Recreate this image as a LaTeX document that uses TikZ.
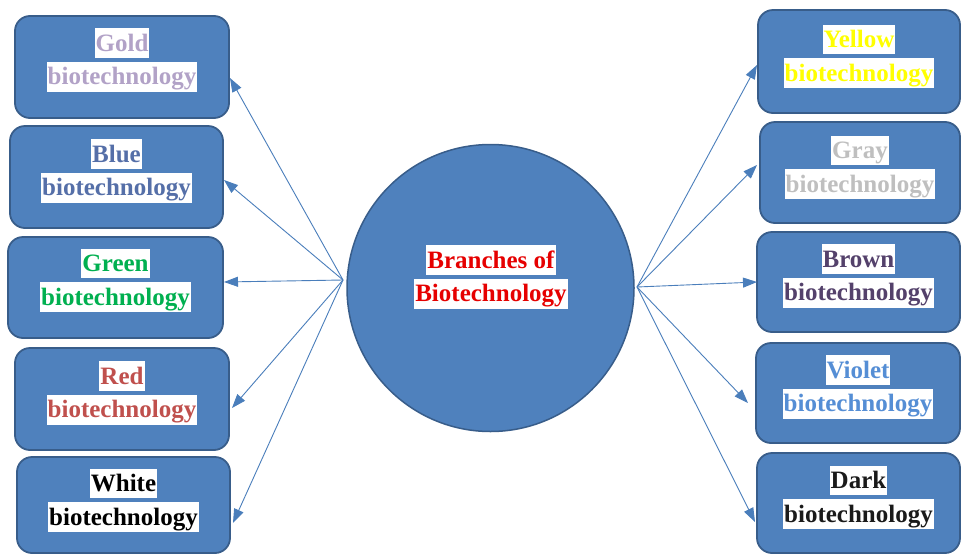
\documentclass[tikz,border=0pt]{standalone}
\usepackage{fontspec}
\setmainfont{Liberation Serif}[BoldFont={Liberation Serif Bold}]
\newfontfamily\lserifbold{Liberation Serif Bold}
\usetikzlibrary{arrows.meta,calc}
\definecolor{boxfill}{HTML}{4F81BD}
\definecolor{boxedge}{HTML}{385D8A}
\definecolor{arrowc}{HTML}{4A7EBB}
\definecolor{cGold}{HTML}{B2A2C7}
\definecolor{cBlue}{HTML}{556FA8}
\definecolor{cGreen}{HTML}{00B050}
\definecolor{cRed}{HTML}{C0504D}
\definecolor{cWhite}{HTML}{000000}
\definecolor{cYellow}{HTML}{FFFF00}
\definecolor{cGray}{HTML}{BFBFBF}
\definecolor{cBrown}{HTML}{54416B}
\definecolor{cViolet}{HTML}{558ED5}
\definecolor{cDark}{HTML}{1A1A1A}
\definecolor{cCenter}{HTML}{E60000}
\setlength{\fboxsep}{1pt}
\newcommand{\hl}[1]{\colorbox{white}{\rule[-5.5pt]{0pt}{27.5pt}#1}}
\tikzset{
  branchbox/.style={draw=boxedge, line width=1.8pt, fill=boxfill, rounded corners=15pt, inner sep=0pt},
  lbl/.style={align=center, inner sep=0pt, font=\lserifbold\fontsize{25}{33.5}\selectfont},
  arr/.style={draw=arrowc, line width=0.9pt, -{Triangle[length=14pt,width=10pt]}}
}
\begin{document}
\begin{tikzpicture}[x=1pt,y=-1pt]
\useasboundingbox (0,0) rectangle (961,555);
\fill[white] (0,0) rectangle (961,555);
% left boxes
\node[branchbox, minimum width=214pt, minimum height=102pt] (gold) at (122,67) {};
\node[branchbox, minimum width=213pt, minimum height=102pt] (blue) at (116.5,177) {};
\node[branchbox, minimum width=215pt, minimum height=101pt] (green) at (115.5,287.5) {};
\node[branchbox, minimum width=214pt, minimum height=102pt] (red) at (122,399) {};
\node[branchbox, minimum width=213pt, minimum height=96pt] (white) at (123.5,505) {};
% right boxes
\node[branchbox, minimum width=202pt, minimum height=103pt] (yellow) at (859,61.5) {};
\node[branchbox, minimum width=200pt, minimum height=101pt] (gray) at (860,172.5) {};
\node[branchbox, minimum width=203pt, minimum height=100pt] (brown) at (858.5,282) {};
\node[branchbox, minimum width=204pt, minimum height=100pt] (violet) at (858,393) {};
\node[branchbox, minimum width=203pt, minimum height=100pt] (dark) at (858.5,503) {};
% centre
\node[circle, draw=boxedge, line width=1.5pt, fill=boxfill, minimum size=287pt, inner sep=0pt] (hub) at (490.5,288) {};
\node[lbl, text=cCenter] (hubt) at (491,277) {\hl{Branches of}\\\hl{Biotechnology}};
% labels
\node[lbl, text=cGold] (goldt) at ([yshift=7pt]gold.center) {\hl{Gold}\\\hl{biotechnology}};
\node[lbl, text=cBlue] (bluet) at ([yshift=6pt]blue.center) {\hl{Blue}\\\hl{biotechnology}};
\node[lbl, text=cGreen] (greent) at ([yshift=7pt]green.center) {\hl{Green}\\\hl{biotechnology}};
\node[lbl, text=cRed] (redt) at ([yshift=6pt]red.center) {\hl{Red}\\\hl{biotechnology}};
\node[lbl, text=cWhite] (whitet) at ([yshift=5pt]white.center) {\hl{White}\\\hl{biotechnology}};
\node[lbl, text=cYellow] (yellowt) at ([yshift=5pt]yellow.center) {\hl{Yellow}\\\hl{biotechnology}};
\node[lbl, text=cGray] (grayt) at ([yshift=5pt]gray.center) {\hl{Gray}\\\hl{biotechnology}};
\node[lbl, text=cBrown] (brownt) at ([yshift=6pt]brown.center) {\hl{Brown}\\\hl{biotechnology}};
\node[lbl, text=cViolet] (violett) at ([yshift=6pt]violet.center) {\hl{Violet}\\\hl{biotechnology}};
\node[lbl, text=cDark] (darkt) at ([yshift=6pt]dark.center) {\hl{Dark}\\\hl{biotechnology}};
% connector anchors
\coordinate (L) at (343,280);
\coordinate (R) at (637,287);
\coordinate (goldtip) at (230,78);
\coordinate (bluetip) at (224,180);
\coordinate (greentip) at (224,282);
\coordinate (redtip) at (232,408);
\coordinate (whitetip) at (233,523);
\coordinate (yellowtip) at (757,65);
\coordinate (graytip) at (757,165);
\coordinate (browntip) at (757,282);
\coordinate (violettip) at (748,403);
\coordinate (darktip) at (755,522);
\foreach \t in {goldtip,bluetip,greentip,redtip,whitetip}{\draw[arr] (L) -- (\t);}
\foreach \t in {yellowtip,graytip,browntip,violettip,darktip}{\draw[arr] (R) -- (\t);}
\end{tikzpicture}
\end{document}
